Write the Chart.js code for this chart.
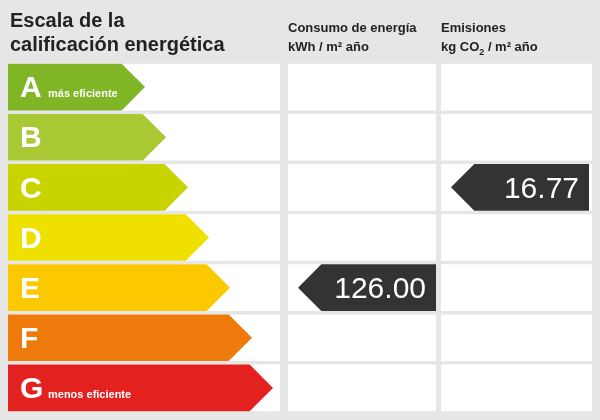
<!DOCTYPE html>
<html><head><meta charset="utf-8">
<script src="https://cdn.jsdelivr.net/npm/chart.js@4/dist/chart.umd.min.js"></script>
<style>body{margin:0;background:#e6e6e6}#wrap{width:600px;height:420px}</style>
</head><body><div id="wrap"><canvas id="c"></canvas></div>
<script>
const classes = ['A', 'B', 'C', 'D', 'E', 'F', 'G'];
const classNotes = ['más eficiente', '', '', '', '', '', 'menos eficiente'];
const classColors = ['#80b526', '#a8c934', '#c9d300', '#efe000', '#fcc800', '#ee7a0c', '#e3221f'];
const arrowEnds = [145, 166, 188, 209, 230, 252, 273];
const consumoClass = 'E', consumoValue = '126.00';
const emisionClass = 'C', emisionValue = '16.77';

const cols = [[8, 280], [288, 436], [441, 592]];

const labelPlugin = {
  id: 'labels',
  beforeDraw(chart) {
    const ctx = chart.ctx;
    ctx.save();
    ctx.fillStyle = '#e6e6e6';
    ctx.fillRect(0, 0, chart.width, chart.height);
    ctx.restore();
  },
  afterDatasetsDraw(chart) {
    const ctx = chart.ctx;
    ctx.save();
    // class arrows
    const meta = chart.getDatasetMeta(3);
    meta.data.forEach((el, i) => {
      const h = el.height, top = el.y - h / 2, tip = h / 2;
      const left = el.base, right = el.x;
      ctx.fillStyle = classColors[i];
      ctx.beginPath();
      ctx.moveTo(left, top); ctx.lineTo(right - tip, top); ctx.lineTo(right, el.y);
      ctx.lineTo(right - tip, top + h); ctx.lineTo(left, top + h); ctx.closePath(); ctx.fill();
      ctx.fillStyle = '#fff';
      ctx.font = 'bold 30px "Liberation Sans", Arial';
      ctx.textBaseline = 'middle';
      ctx.fillText(classes[i], left + 12, el.y + 2);
      if (classNotes[i]) {
        ctx.font = 'bold 11px "Liberation Sans", Arial';
        ctx.textBaseline = 'alphabetic';
        ctx.fillText(classNotes[i], left + 40, el.y + 10);
      }
    });
    // value arrows
    [[4, consumoClass, consumoValue], [5, emisionClass, emisionValue]].forEach(([ds, cls, val]) => {
      const el = chart.getDatasetMeta(ds).data[classes.indexOf(cls)];
      const h = el.height, top = el.y - h / 2, tip = h / 2;
      ctx.fillStyle = '#333333';
      ctx.beginPath();
      ctx.moveTo(el.base, el.y); ctx.lineTo(el.base + tip, top); ctx.lineTo(el.x, top);
      ctx.lineTo(el.x, top + h); ctx.lineTo(el.base + tip, top + h); ctx.closePath(); ctx.fill();
      ctx.fillStyle = '#fff';
      ctx.font = '30px "Liberation Sans", Arial';
      ctx.textAlign = 'right'; ctx.textBaseline = 'middle';
      ctx.fillText(val, el.x - 10, el.y + 2);
      ctx.textAlign = 'left';
    });
    // headers
    ctx.fillStyle = '#222';
    ctx.textBaseline = 'alphabetic';
    ctx.font = 'bold 20px "Liberation Sans", Arial';
    ctx.fillText('Escala de la', 10, 27);
    ctx.fillText('calificación energética', 10, 51);
    ctx.font = 'bold 13px "Liberation Sans", Arial';
    ctx.fillText('Consumo de energía', 288, 32);
    ctx.fillText('kWh / m² año', 288, 51);
    ctx.fillText('Emisiones', 441, 32);
    ctx.fillText('kg CO', 441, 51);
    let w = ctx.measureText('kg CO').width;
    ctx.font = 'bold 9px "Liberation Sans", Arial';
    ctx.fillText('2', 441 + w, 55);
    const w2 = ctx.measureText('2').width;
    ctx.font = 'bold 13px "Liberation Sans", Arial';
    ctx.fillText(' / m² año', 441 + w + w2, 51);
    ctx.restore();
  }
};

const cellSet = (c) => ({ data: classes.map(() => c), backgroundColor: '#ffffff', grouped: false, barPercentage: 0.93, categoryPercentage: 1 });
const hidden = (arr) => ({ data: arr, backgroundColor: 'rgba(0,0,0,0)', grouped: false, barPercentage: 0.93, categoryPercentage: 1 });

new Chart(document.getElementById('c'), {
  type: 'bar',
  data: {
    labels: classes,
    datasets: [
      cellSet(cols[0]), cellSet(cols[1]), cellSet(cols[2]),
      hidden(arrowEnds.map(e => [8, e])),
      hidden(classes.map(c => c === consumoClass ? [298, 436] : null)),
      hidden(classes.map(c => c === emisionClass ? [451, 589] : null))
    ]
  },
  options: {
    indexAxis: 'y', responsive: true, maintainAspectRatio: false, animation: false,
    layout: { padding: { top: 62, bottom: 7, left: 0, right: 0 } },
    plugins: { legend: { display: false }, tooltip: { enabled: false } },
    scales: {
      x: { type: 'linear', min: 0, max: 600, display: false },
      y: { display: false, offset: true }
    }
  },
  plugins: [labelPlugin]
});
</script></body></html>
